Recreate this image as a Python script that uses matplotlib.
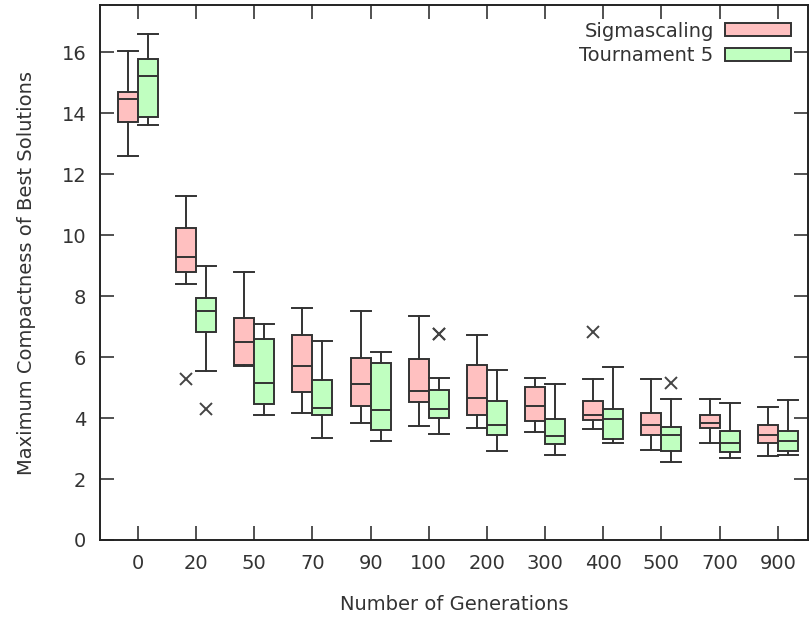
import matplotlib
matplotlib.use("Agg")
import matplotlib.pyplot as plt
from matplotlib.patches import Patch
from matplotlib import font_manager
import numpy as np

# Categories (number of generations)
generations = ["0", "20", "50", "70", "90", "100", "200", "300", "400", "500", "700", "900"]

# Box stats: lower whisker, q1, median, q3, upper whisker
sigma_low = [12.59, 8.39, 5.70, 4.18, 3.84, 3.75, 3.66, 3.53, 3.65, 2.95, 3.17, 2.74]
sigma_q1 = [13.69, 8.79, 5.73, 4.84, 4.39, 4.54, 4.10, 3.91, 3.92, 3.44, 3.66, 3.17]
sigma_med = [14.47, 9.27, 6.50, 5.72, 5.10, 4.90, 4.67, 4.39, 4.10, 3.78, 3.84, 3.44]
sigma_q3 = [14.69, 10.22, 7.29, 6.72, 5.97, 5.93, 5.75, 5.01, 4.57, 4.18, 4.09, 3.78]
sigma_high = [16.03, 11.28, 8.78, 7.60, 7.51, 7.34, 6.72, 5.31, 5.27, 5.27, 4.62, 4.35]
sigma_out = [[], [5.27], [], [], [], [], [], [], [6.82], [], [], []]

tourn_low = [13.60, 5.54, 4.09, 3.36, 3.26, 3.49, 2.92, 2.79, 3.18, 2.56, 2.69, 2.79]
tourn_q1 = [13.86, 6.81, 4.45, 4.09, 3.61, 4.01, 3.44, 3.14, 3.31, 2.92, 2.88, 2.92]
tourn_med = [15.21, 7.51, 5.15, 4.32, 4.26, 4.28, 3.78, 3.40, 3.97, 3.44, 3.17, 3.26]
tourn_q3 = [15.78, 7.95, 6.58, 5.24, 5.79, 4.92, 4.57, 3.96, 4.31, 3.70, 3.56, 3.56]
tourn_high = [16.58, 9.00, 7.08, 6.54, 6.15, 5.31, 5.59, 5.10, 5.66, 4.62, 4.48, 4.58]
tourn_out = [[], [4.28], [], [], [], [6.74, 6.76], [], [], [], [5.14], [], []]

pink = "#ffc0c0"
green = "#c0ffc0"
edge = "#333333"

fp = font_manager.FontProperties(family="DejaVu Sans", size=14)
txt = "#333333"


def make_stats(low, q1, med, q3, high, out):
    stats = []
    for i in range(len(low)):
        stats.append({"whislo": low[i], "q1": q1[i], "med": med[i], "q3": q3[i],
                      "whishi": high[i], "fliers": out[i]})
    return stats


fig = plt.figure(figsize=(8.1, 6.17), dpi=100)
ax = fig.add_axes([0.1235, 0.1248, 0.874, 0.867])

x = np.arange(len(generations))
w = 0.344

for stats, pos, col in [
    (make_stats(sigma_low, sigma_q1, sigma_med, sigma_q3, sigma_high, sigma_out), x - w / 2, pink),
    (make_stats(tourn_low, tourn_q1, tourn_med, tourn_q3, tourn_high, tourn_out), x + w / 2, green),
]:
    ax.bxp(stats, positions=pos, widths=w, patch_artist=True, showfliers=True,
           boxprops=dict(facecolor=col, edgecolor=edge, linewidth=1.4),
           medianprops=dict(color=edge, linewidth=1.4),
           whiskerprops=dict(color=edge, linewidth=1.4),
           capprops=dict(color=edge, linewidth=1.4),
           capwidths=w,
           flierprops=dict(marker="x", markeredgecolor="#444444", markersize=8,
                           markeredgewidth=1.4, linestyle="none"))

ax.set_xlim(-0.653, 11.52)
ax.set_ylim(0, 17.54)
ax.set_xticks(x)
ax.set_xticklabels(generations)
ax.set_yticks(np.arange(0, 17, 2))
ax.tick_params(direction="in", length=10, width=1.2, top=True, right=True,
               pad=10, colors=txt)
for lab in ax.get_xticklabels() + ax.get_yticklabels():
    lab.set_fontproperties(fp)
for s in ax.spines.values():
    s.set_linewidth(1.4)
    s.set_color("#222222")

ax.set_xlabel("Number of Generations", fontproperties=fp, labelpad=16, color=txt)
ax.set_ylabel("Maximum Compactness of Best Solutions", fontproperties=fp, labelpad=18, color=txt)

handles = [Patch(facecolor=pink, edgecolor=edge, linewidth=1.4),
           Patch(facecolor=green, edgecolor=edge, linewidth=1.4)]
ax.legend(handles, ["Sigmascaling", "Tournament 5"], loc="upper right",
          markerfirst=False, frameon=False, prop=fp, handlelength=3.4,
          handleheight=0.65, labelspacing=0.3, handletextpad=0.6,
          borderaxespad=0.45, labelcolor=txt)

fig.savefig("out.png", dpi=100)
